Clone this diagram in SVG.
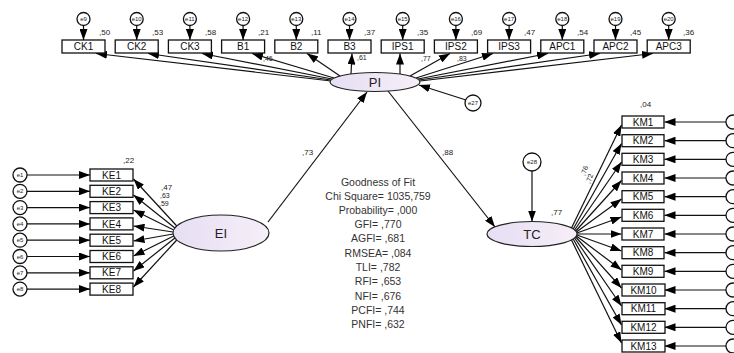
<svg xmlns="http://www.w3.org/2000/svg" width="734" height="353" viewBox="0 0 734 353">
  <defs>
    <marker id="ah" viewBox="0 0 11 8" refX="11" refY="4" markerWidth="11" markerHeight="8" markerUnits="userSpaceOnUse" orient="auto">
      <path d="M0,0 L11,4 L0,8 z" fill="#000"/>
    </marker>
    <linearGradient id="lat" x1="0" y1="0" x2="1" y2="0">
      <stop offset="0" stop-color="#e6def3"/>
      <stop offset="1" stop-color="#f6eff8"/>
    </linearGradient>
  </defs>
  <style>
    .box { fill: #fff; stroke: #111; stroke-width: 1.3; }
    .lat { fill: url(#lat); stroke: #222; stroke-width: 1.2; }
    .err { fill: #fff; stroke: #111; stroke-width: 1.3; }
    .ln { stroke: #111; stroke-width: 1.2; fill: none; marker-end: url(#ah); }
    .t { font-family: "Liberation Sans", Arial, sans-serif; fill: #222; }
    .bt { font-size: 10px; text-anchor: middle; fill: #111; }
    .et { font-size: 6px; text-anchor: middle; }
    .num { font-size: 8px; }
    .lt { font-size: 13px; text-anchor: middle; }
    .gf { font-size: 10.5px; text-anchor: middle; fill: #333; }
  </style>
  <rect width="734" height="353" fill="#fff"/>

  <!-- connectors -->
  <g id="connectors">
    <!-- structural paths -->
    <line class="ln" x1="268" y1="222" x2="367" y2="92"/>
    <line class="ln" x1="388" y1="91" x2="495" y2="227"/>
    <line class="ln" x1="532" y1="171" x2="532" y2="221.5"/>
    <line class="ln" x1="466" y1="100" x2="419" y2="85"/>
    <!-- PI indicators -->
    <line class="ln" x1="331" y1="81" x2="96" y2="53.5"/>
    <line class="ln" x1="331" y1="80" x2="148" y2="53.5"/>
    <line class="ln" x1="332" y1="79" x2="202" y2="53.5"/>
    <line class="ln" x1="334" y1="78" x2="252" y2="53.5"/>
    <line class="ln" x1="340" y1="76" x2="307" y2="53.5"/>
    <line class="ln" x1="351" y1="74" x2="352" y2="53.5"/>
    <line class="ln" x1="400" y1="74" x2="400" y2="53.5"/>
    <line class="ln" x1="410" y1="76" x2="450" y2="53.5"/>
    <line class="ln" x1="416" y1="78" x2="493" y2="53.5"/>
    <line class="ln" x1="418" y1="79" x2="548" y2="53.5"/>
    <line class="ln" x1="419" y1="80" x2="600" y2="53.5"/>
    <line class="ln" x1="420" y1="81" x2="653" y2="53.5"/>
    <!-- top error terms -->
    <line class="ln" x1="83.5" y1="25.5" x2="83.5" y2="40"/>
    <line class="ln" x1="136.7" y1="25.5" x2="136.7" y2="40"/>
    <line class="ln" x1="189.9" y1="25.5" x2="189.9" y2="40"/>
    <line class="ln" x1="243.1" y1="25.5" x2="243.1" y2="40"/>
    <line class="ln" x1="296.3" y1="25.5" x2="296.3" y2="40"/>
    <line class="ln" x1="349.5" y1="25.5" x2="349.5" y2="40"/>
    <line class="ln" x1="402.7" y1="25.5" x2="402.7" y2="40"/>
    <line class="ln" x1="455.9" y1="25.5" x2="455.9" y2="40"/>
    <line class="ln" x1="509.1" y1="25.5" x2="509.1" y2="40"/>
    <line class="ln" x1="562.3" y1="25.5" x2="562.3" y2="40"/>
    <line class="ln" x1="615.5" y1="25.5" x2="615.5" y2="40"/>
    <line class="ln" x1="668.7" y1="25.5" x2="668.7" y2="40"/>
    <!-- EI indicators -->
    <line class="ln" x1="176.8" y1="226" x2="133.5" y2="179"/>
    <line class="ln" x1="174.9" y1="228" x2="133.5" y2="195"/>
    <line class="ln" x1="173.7" y1="230" x2="133.5" y2="210"/>
    <line class="ln" x1="173.1" y1="232" x2="133.5" y2="226"/>
    <line class="ln" x1="173.1" y1="234" x2="133.5" y2="241"/>
    <line class="ln" x1="173.7" y1="236" x2="133.5" y2="256"/>
    <line class="ln" x1="174.9" y1="238" x2="133.5" y2="271"/>
    <line class="ln" x1="176.8" y1="240" x2="133.5" y2="287"/>
    <!-- left error terms -->
    <line class="ln" x1="27" y1="175" x2="90" y2="175"/>
    <line class="ln" x1="27" y1="191.3" x2="90" y2="191.3"/>
    <line class="ln" x1="27" y1="207.6" x2="90" y2="207.6"/>
    <line class="ln" x1="27" y1="223.9" x2="90" y2="223.9"/>
    <line class="ln" x1="27" y1="240.2" x2="90" y2="240.2"/>
    <line class="ln" x1="27" y1="256.5" x2="90" y2="256.5"/>
    <line class="ln" x1="27" y1="272.8" x2="90" y2="272.8"/>
    <line class="ln" x1="27" y1="289.1" x2="90" y2="289.1"/>
    <!-- TC indicators -->
    <line class="ln" x1="571.5" y1="228" x2="621.5" y2="125"/>
    <line class="ln" x1="573.2" y1="229" x2="621.5" y2="143.5"/>
    <line class="ln" x1="574.6" y1="230" x2="621.5" y2="162"/>
    <line class="ln" x1="575.7" y1="231" x2="621.5" y2="180.5"/>
    <line class="ln" x1="576.4" y1="232" x2="621.5" y2="199"/>
    <line class="ln" x1="576.9" y1="233" x2="621.5" y2="217"/>
    <line class="ln" x1="577" y1="234" x2="621.5" y2="234"/>
    <line class="ln" x1="576.9" y1="235" x2="621.5" y2="251"/>
    <line class="ln" x1="576.4" y1="236" x2="621.5" y2="270"/>
    <line class="ln" x1="575.7" y1="237" x2="621.5" y2="288"/>
    <line class="ln" x1="574.6" y1="238" x2="621.5" y2="306"/>
    <line class="ln" x1="573.2" y1="239" x2="621.5" y2="325"/>
    <line class="ln" x1="571.5" y1="240" x2="621.5" y2="343"/>
    <!-- right error terms -->
    <line class="ln" x1="726" y1="122" x2="664.5" y2="122"/>
    <line class="ln" x1="726" y1="140.7" x2="664.5" y2="140.7"/>
    <line class="ln" x1="726" y1="159.3" x2="664.5" y2="159.3"/>
    <line class="ln" x1="726" y1="178" x2="664.5" y2="178"/>
    <line class="ln" x1="726" y1="196.7" x2="664.5" y2="196.7"/>
    <line class="ln" x1="726" y1="215.3" x2="664.5" y2="215.3"/>
    <line class="ln" x1="726" y1="234" x2="664.5" y2="234"/>
    <line class="ln" x1="726" y1="252.7" x2="664.5" y2="252.7"/>
    <line class="ln" x1="726" y1="271.3" x2="664.5" y2="271.3"/>
    <line class="ln" x1="726" y1="290" x2="664.5" y2="290"/>
    <line class="ln" x1="726" y1="308.7" x2="664.5" y2="308.7"/>
    <line class="ln" x1="726" y1="327.3" x2="664.5" y2="327.3"/>
    <line class="ln" x1="726" y1="346" x2="664.5" y2="346"/>
  </g>

  <!-- latent variables -->
  <g id="PI"><ellipse class="lat" cx="375" cy="82" rx="45" ry="9.5"/><text class="t lt" x="375" y="86.5">PI</text></g>
  <g id="EI"><ellipse class="lat" cx="221" cy="233" rx="48" ry="18"/><text class="t lt" x="221" y="237.5">EI</text></g>
  <g id="TC"><ellipse class="lat" cx="532" cy="234" rx="45" ry="12.5"/><text class="t lt" x="532" y="238.5">TC</text></g>

  <!-- residuals of endogenous latents -->
  <g id="e27"><circle class="err" cx="473" cy="103" r="8"/><text class="t et" x="473" y="105">e27</text></g>
  <g id="e28"><circle class="err" cx="532" cy="162" r="9"/><text class="t et" x="532" y="164">e28</text></g>

  <!-- PI indicators -->
  <g id="CK1"><rect class="box" x="62" y="40" width="43" height="13"/><text class="t bt" x="83.5" y="50.2">CK1</text></g>
  <g id="CK2"><rect class="box" x="115.2" y="40" width="43" height="13"/><text class="t bt" x="136.7" y="50.2">CK2</text></g>
  <g id="CK3"><rect class="box" x="168.4" y="40" width="43" height="13"/><text class="t bt" x="189.9" y="50.2">CK3</text></g>
  <g id="B1"><rect class="box" x="221.6" y="40" width="43" height="13"/><text class="t bt" x="243.1" y="50.2">B1</text></g>
  <g id="B2"><rect class="box" x="274.8" y="40" width="43" height="13"/><text class="t bt" x="296.3" y="50.2">B2</text></g>
  <g id="B3"><rect class="box" x="328" y="40" width="43" height="13"/><text class="t bt" x="349.5" y="50.2">B3</text></g>
  <g id="IPS1"><rect class="box" x="381.2" y="40" width="43" height="13"/><text class="t bt" x="402.7" y="50.2">IPS1</text></g>
  <g id="IPS2"><rect class="box" x="434.4" y="40" width="43" height="13"/><text class="t bt" x="455.9" y="50.2">IPS2</text></g>
  <g id="IPS3"><rect class="box" x="487.6" y="40" width="43" height="13"/><text class="t bt" x="509.1" y="50.2">IPS3</text></g>
  <g id="APC1"><rect class="box" x="540.8" y="40" width="43" height="13"/><text class="t bt" x="562.3" y="50.2">APC1</text></g>
  <g id="APC2"><rect class="box" x="594" y="40" width="43" height="13"/><text class="t bt" x="615.5" y="50.2">APC2</text></g>
  <g id="APC3"><rect class="box" x="647.2" y="40" width="43" height="13"/><text class="t bt" x="668.7" y="50.2">APC3</text></g>

  <!-- top error terms -->
  <g id="e9"><circle class="err" cx="83.5" cy="19" r="6.5"/><text class="t et" x="83.5" y="21">e9</text></g>
  <g id="e10"><circle class="err" cx="136.7" cy="19" r="6.5"/><text class="t et" x="136.7" y="21">e10</text></g>
  <g id="e11"><circle class="err" cx="189.9" cy="19" r="6.5"/><text class="t et" x="189.9" y="21">e11</text></g>
  <g id="e12"><circle class="err" cx="243.1" cy="19" r="6.5"/><text class="t et" x="243.1" y="21">e12</text></g>
  <g id="e13"><circle class="err" cx="296.3" cy="19" r="6.5"/><text class="t et" x="296.3" y="21">e13</text></g>
  <g id="e14"><circle class="err" cx="349.5" cy="19" r="6.5"/><text class="t et" x="349.5" y="21">e14</text></g>
  <g id="e15"><circle class="err" cx="402.7" cy="19" r="6.5"/><text class="t et" x="402.7" y="21">e15</text></g>
  <g id="e16"><circle class="err" cx="455.9" cy="19" r="6.5"/><text class="t et" x="455.9" y="21">e16</text></g>
  <g id="e17"><circle class="err" cx="509.1" cy="19" r="6.5"/><text class="t et" x="509.1" y="21">e17</text></g>
  <g id="e18"><circle class="err" cx="562.3" cy="19" r="6.5"/><text class="t et" x="562.3" y="21">e18</text></g>
  <g id="e19"><circle class="err" cx="615.5" cy="19" r="6.5"/><text class="t et" x="615.5" y="21">e19</text></g>
  <g id="e20"><circle class="err" cx="668.7" cy="19" r="6.5"/><text class="t et" x="668.7" y="21">e20</text></g>

  <!-- EI indicators -->
  <g id="KE1"><rect class="box" x="90" y="169" width="43" height="12"/><text class="t bt" x="111.5" y="178.6">KE1</text></g>
  <g id="KE2"><rect class="box" x="90" y="185.3" width="43" height="12"/><text class="t bt" x="111.5" y="194.9">KE2</text></g>
  <g id="KE3"><rect class="box" x="90" y="201.6" width="43" height="12"/><text class="t bt" x="111.5" y="211.2">KE3</text></g>
  <g id="KE4"><rect class="box" x="90" y="217.9" width="43" height="12"/><text class="t bt" x="111.5" y="227.5">KE4</text></g>
  <g id="KE5"><rect class="box" x="90" y="234.2" width="43" height="12"/><text class="t bt" x="111.5" y="243.8">KE5</text></g>
  <g id="KE6"><rect class="box" x="90" y="250.5" width="43" height="12"/><text class="t bt" x="111.5" y="260.1">KE6</text></g>
  <g id="KE7"><rect class="box" x="90" y="266.8" width="43" height="12"/><text class="t bt" x="111.5" y="276.4">KE7</text></g>
  <g id="KE8"><rect class="box" x="90" y="283.1" width="43" height="12"/><text class="t bt" x="111.5" y="292.7">KE8</text></g>

  <!-- left error terms -->
  <g id="e1"><circle class="err" cx="20" cy="175" r="7"/><text class="t et" x="20" y="177">e1</text></g>
  <g id="e2"><circle class="err" cx="20" cy="191.3" r="7"/><text class="t et" x="20" y="193.3">e2</text></g>
  <g id="e3"><circle class="err" cx="20" cy="207.6" r="7"/><text class="t et" x="20" y="209.6">e3</text></g>
  <g id="e4"><circle class="err" cx="20" cy="223.9" r="7"/><text class="t et" x="20" y="225.9">e4</text></g>
  <g id="e5"><circle class="err" cx="20" cy="240.2" r="7"/><text class="t et" x="20" y="242.2">e5</text></g>
  <g id="e6"><circle class="err" cx="20" cy="256.5" r="7"/><text class="t et" x="20" y="258.5">e6</text></g>
  <g id="e7"><circle class="err" cx="20" cy="272.8" r="7"/><text class="t et" x="20" y="274.8">e7</text></g>
  <g id="e8"><circle class="err" cx="20" cy="289.1" r="7"/><text class="t et" x="20" y="291.1">e8</text></g>

  <!-- TC indicators -->
  <g id="KM1"><rect class="box" x="622" y="116" width="42" height="12"/><text class="t bt" x="643" y="125.6">KM1</text></g>
  <g id="KM2"><rect class="box" x="622" y="134.7" width="42" height="12"/><text class="t bt" x="643" y="144.3">KM2</text></g>
  <g id="KM3"><rect class="box" x="622" y="153.3" width="42" height="12"/><text class="t bt" x="643" y="162.9">KM3</text></g>
  <g id="KM4"><rect class="box" x="622" y="172" width="42" height="12"/><text class="t bt" x="643" y="181.6">KM4</text></g>
  <g id="KM5"><rect class="box" x="622" y="190.7" width="42" height="12"/><text class="t bt" x="643" y="200.3">KM5</text></g>
  <g id="KM6"><rect class="box" x="622" y="209.3" width="42" height="12"/><text class="t bt" x="643" y="218.9">KM6</text></g>
  <g id="KM7"><rect class="box" x="622" y="228" width="42" height="12"/><text class="t bt" x="643" y="237.6">KM7</text></g>
  <g id="KM8"><rect class="box" x="622" y="246.7" width="42" height="12"/><text class="t bt" x="643" y="256.3">KM8</text></g>
  <g id="KM9"><rect class="box" x="622" y="265.3" width="42" height="12"/><text class="t bt" x="643" y="274.9">KM9</text></g>
  <g id="KM10"><rect class="box" x="622" y="284" width="43" height="12"/><text class="t bt" x="643.5" y="293.6">KM10</text></g>
  <g id="KM11"><rect class="box" x="622" y="302.7" width="43" height="12"/><text class="t bt" x="643.5" y="312.3">KM11</text></g>
  <g id="KM12"><rect class="box" x="622" y="321.3" width="43" height="12"/><text class="t bt" x="643.5" y="330.9">KM12</text></g>
  <g id="KM13"><rect class="box" x="622" y="340" width="43" height="12"/><text class="t bt" x="643.5" y="349.6">KM13</text></g>

  <!-- right error terms (circles run past the right edge) -->
  <g id="e29"><circle class="err" cx="733" cy="122" r="7"/></g>
  <g id="e30"><circle class="err" cx="733" cy="140.7" r="7"/></g>
  <g id="e31"><circle class="err" cx="733" cy="159.3" r="7"/></g>
  <g id="e32"><circle class="err" cx="733" cy="178" r="7"/></g>
  <g id="e33"><circle class="err" cx="733" cy="196.7" r="7"/></g>
  <g id="e34"><circle class="err" cx="733" cy="215.3" r="7"/></g>
  <g id="e35"><circle class="err" cx="733" cy="234" r="7"/></g>
  <g id="e36"><circle class="err" cx="733" cy="252.7" r="7"/></g>
  <g id="e37"><circle class="err" cx="733" cy="271.3" r="7"/></g>
  <g id="e38"><circle class="err" cx="733" cy="290" r="7"/></g>
  <g id="e39"><circle class="err" cx="733" cy="308.7" r="7"/></g>
  <g id="e40"><circle class="err" cx="733" cy="327.3" r="7"/></g>
  <g id="e41"><circle class="err" cx="733" cy="346" r="7"/></g>

  <!-- estimates -->
  <g id="estimates" class="t num">
    <text x="99" y="35">,50</text>
    <text x="152" y="35">,53</text>
    <text x="205" y="35">,58</text>
    <text x="258" y="35">,21</text>
    <text x="311" y="35">,11</text>
    <text x="364" y="35">,37</text>
    <text x="417" y="35">,35</text>
    <text x="471" y="35">,69</text>
    <text x="524" y="35">,47</text>
    <text x="577" y="35">,54</text>
    <text x="630" y="35">,45</text>
    <text x="683" y="35">,36</text>
    <text x="263" y="61" font-size="7">,46</text>
    <text x="357" y="60" font-size="7">,61</text>
    <text x="421" y="61" font-size="7">,77</text>
    <text x="457" y="61" font-size="7">,83</text>
    <text x="302" y="155">,73</text>
    <text x="442" y="155">,88</text>
    <text x="551" y="215">,77</text>
    <text x="123" y="163">,22</text>
    <text x="161" y="190">,47</text>
    <text x="160" y="198" font-size="7">,63</text>
    <text x="159" y="205.5" font-size="7">,59</text>
    <text x="640" y="107">,04</text>
    <text x="585" y="176" font-size="7" transform="rotate(-70 585 176)">,76</text>
    <text x="590" y="184" font-size="7" transform="rotate(-70 590 184)">,72</text>
  </g>

  <!-- model fit summary -->
  <g id="fit" class="t gf">
    <text x="378" y="186">Goodness of Fit</text>
    <text x="378" y="199.5">Chi Square= 1035,759</text>
    <text x="378" y="213.5">Probability= ,000</text>
    <text x="378" y="227.5">GFI= ,770</text>
    <text x="378" y="242">AGFI= ,681</text>
    <text x="378" y="256.5">RMSEA= ,084</text>
    <text x="378" y="271">TLI= ,782</text>
    <text x="378" y="285">RFI= ,653</text>
    <text x="378" y="299.5">NFI= ,676</text>
    <text x="378" y="314">PCFI= ,744</text>
    <text x="378" y="328">PNFI= ,632</text>
  </g>
</svg>
